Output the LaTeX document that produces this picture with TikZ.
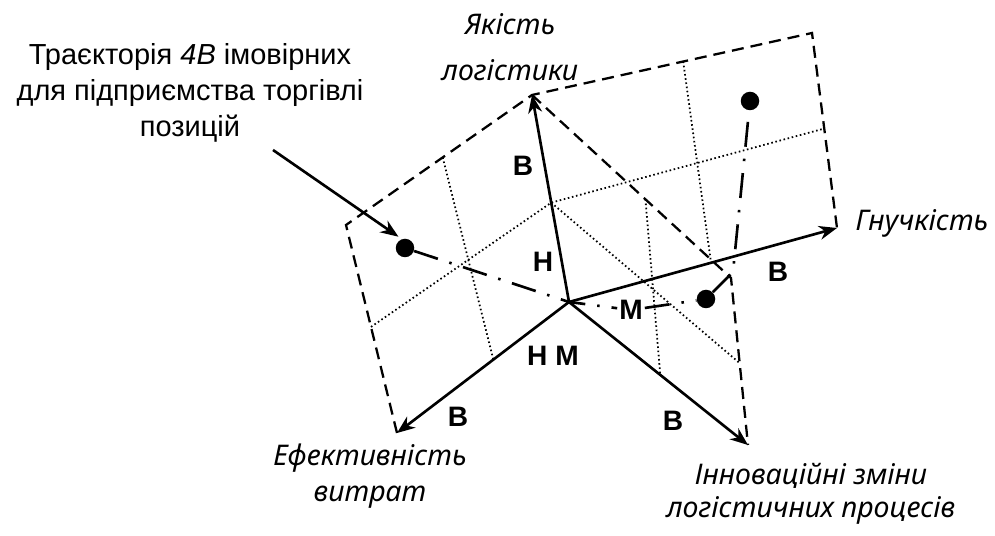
\documentclass[tikz,border=0pt]{standalone}
\usepackage{fontspec}
\setmainfont{Liberation Sans}
\newfontfamily\axfont{Noto Sans}
\usetikzlibrary{arrows.meta,positioning,calc}

\begin{document}
\begin{tikzpicture}[x=0.02cm, y=-0.02cm,
  >={Stealth[length=0.36cm, width=0.28cm]},
  axisline/.style={draw, line width=1.5pt, ->},
  frameline/.style={draw, line width=1.3pt, dash pattern=on 0.24cm off 0.14cm},
  gridline/.style={draw, line width=1pt, dash pattern=on 0.9pt off 1.5pt},
  trackline/.style={draw, line width=1.5pt,
    dash pattern=on 0.5cm off 0.24cm on 0.05cm off 0.24cm},
  posdot/.style={circle, fill=black, inner sep=0pt, minimum size=0.37cm},
  lvl/.style={font=\bfseries\fontsize{16}{18}\selectfont, inner sep=1pt},
  axlabel/.style={font=\axfont\itshape\fontsize{16.2}{18.5}\selectfont, align=center}
]
\useasboundingbox (0,0) rectangle (995,536);

% axes and frame corners
\coordinate (O) at (569,302);
\coordinate (up) at (532,95);
\coordinate (rt) at (837,228);
\coordinate (lf) at (397,433);
\coordinate (lr) at (748,445);
\coordinate (cUL) at (346,225);
\coordinate (cUR) at (812,33);
\coordinate (cD) at (731,278);
\coordinate (mU) at ($(O)!0.48!(up)$);

% grid
\draw[gridline] ($(cUL)!0.52!(up)$) -- ($(O)!0.44!(lf)$);
\draw[gridline] ($(cUL)!0.49!(lf)$) -- (mU) -- ($(cUR)!0.49!(rt)$);
\draw[gridline] (mU) -- ($(cD)!0.51!(lr)$);
\draw[gridline] ($(up)!0.54!(cUR)$) -- ($(O)!0.53!(rt)$);
\draw[gridline] ($(up)!0.57!(cD)$) -- ($(O)!0.51!(lr)$);

\draw[frameline] (lf) -- (cUL) -- (up) -- (cUR) -- (rt);
\draw[frameline] (up) -- (cD) -- (lr);

\draw[axisline] (O) -- (up);
\draw[axisline] (O) -- (rt);
\draw[axisline] (O) -- (lf);
\draw[axisline] (O) -- (lr);

% trajectory
\node[posdot] (p1) at (405,248) {};
\node[posdot] (p2) at (706,299) {};
\node[posdot] (p3) at (750,101) {};
\node[lvl] (m) at (631,310) {М};
\coordinate (bend) at (733,272);
\draw[trackline] (p1) -- (O) -- (m) -- (p2) -- (bend) -- (p3);

% level marks
\node[lvl] (bU) at (523,166) {В};
\node[lvl] (hU) at (543,262) {Н};
\node[lvl] (hm) at (553,356) {Н М};
\node[lvl] (bL) at (458,417) {В};
\node[lvl] (bLR) at (673,421) {В};
\node[lvl] (bR) at (778,272) {В};

% axis names
\node[axlabel] (lblU) at (510,47) {Якість\\[8pt]логістики};
\node[axlabel] (lblR) at (922,223) {Гнучкість};
\node[axlabel] (lblL) at (370,476) {Ефективність\\[2pt]витрат};
\node[axlabel] (lblLR) at (811,494) {Інноваційні зміни\\логістичних процесів};

% annotation
\node[font=\fontsize{16.5}{20.5}\selectfont, align=center] (ann) at (190,93)
  {Траєкторія \textit{4В} імовірних\\для підприємства торгівлі\\позицій};
\coordinate (a0) at (273,150);
\draw[->, line width=1.5pt, shorten >=0.08cm] (a0) -- (p1.110);
\end{tikzpicture}
\end{document}
